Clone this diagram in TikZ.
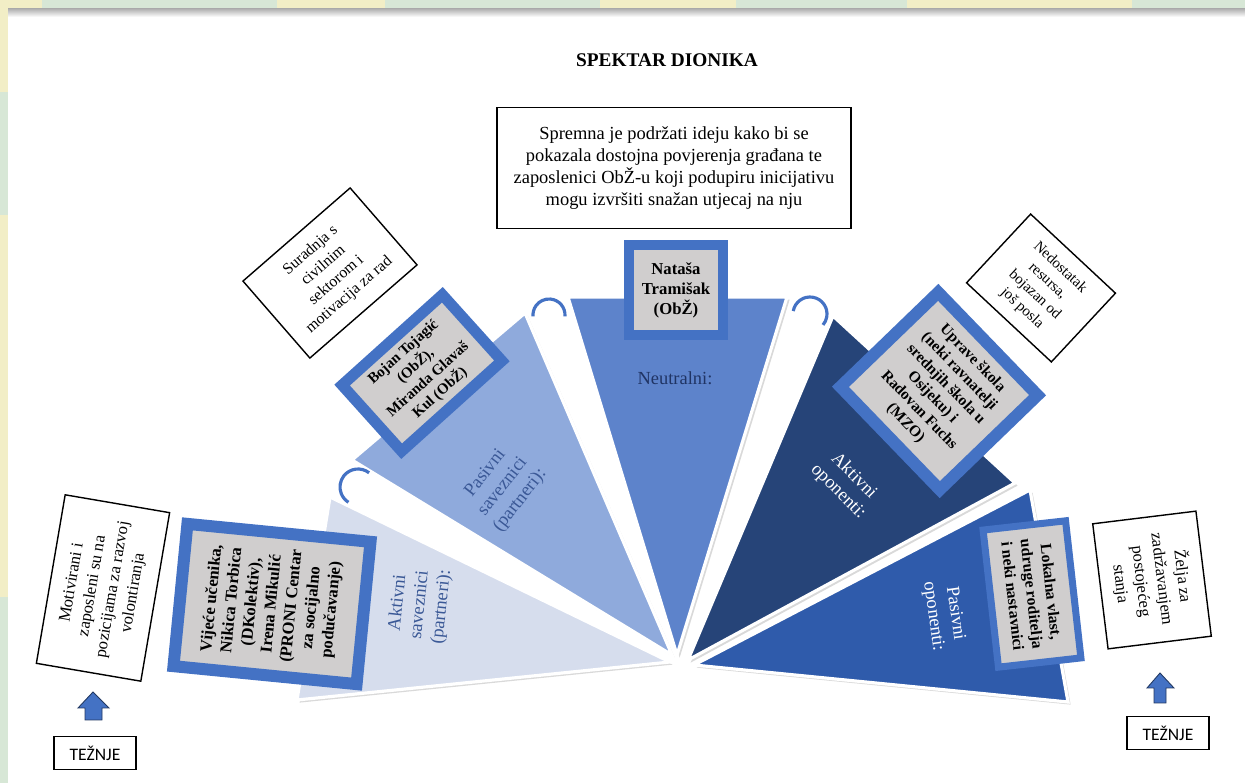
\documentclass[tikz,border=0pt]{standalone}
\usepackage{fontspec}
\setmainfont{Liberation Serif}
\newfontfamily\calibri{Carlito}
\usepackage{tikz}
\usetikzlibrary{shadows}
\definecolor{frameblue}{RGB}{68,114,196}
\definecolor{boxgray}{RGB}{208,206,206}
\definecolor{wedgeA}{RGB}{214,221,237}
\definecolor{wedgeB}{RGB}{143,170,220}
\definecolor{wedgeC}{RGB}{93,131,203}
\definecolor{wedgeD}{RGB}{38,68,120}
\definecolor{wedgeE}{RGB}{47,91,171}
\definecolor{labelblue}{RGB}{58,88,150}
\definecolor{labeldark}{RGB}{32,52,100}
\definecolor{stripyellow}{RGB}{242,238,198}
\definecolor{stripgreen}{RGB}{215,231,214}
\tikzstyle{wedge}=[draw=white,
line width=1.8pt,
drop shadow={opacity=0.3,shadow xshift=1.5pt,shadow yshift=-1.5pt}]
\tikzstyle{stakeholder}=[rectangle,
draw=frameblue,
fill=boxgray,
align=center,
inner sep=0pt,
font=\fontsize{9.5}{11.4}\selectfont\bfseries]
\tikzstyle{note}=[rectangle,
draw=black,
line width=0.8pt,
fill=white,
align=center,
inner sep=0pt,
font=\fontsize{9.5}{11.8}\selectfont]
\tikzstyle{aim}=[rectangle,
draw=black,
line width=0.8pt,
fill=white,
minimum width=1.64cm,
minimum height=0.66cm,
font=\calibri\fontsize{10}{12}\selectfont]
\tikzstyle{wedgelabel}=[align=center,
font=\fontsize{10.5}{12.5}\selectfont]
\tikzstyle{hook}=[draw=frameblue,
line width=1.8pt]
\tikzstyle{uparrow}=[fill=frameblue,
draw=frameblue!50!black,
line width=0.5pt]

\begin{document}
\begin{tikzpicture}[x=0.02cm,y=-0.02cm]
	\useasboundingbox (0,0) rectangle (1245,783);
	% page edge strips
	\fill[stripyellow] (0,0) rectangle (1245,9);
	\foreach \a/\b in {42/277,385/600,736/907,1132/1245}
	\fill[stripgreen] (\a,0) rectangle (\b,9);
	\fill[stripyellow] (0,0) rectangle (8,783);
	\fill[stripgreen] (0,92) rectangle (8,215);
	\fill[stripgreen] (0,597) rectangle (8,783);
	\shade[top color=black!30,bottom color=white] (8,9) rectangle (1245,17);
	
	\node[font=\fontsize{11}{13}\selectfont\bfseries] (title) at (667,60) {SPEKTAR DIONIKA};
	
	% the fan of stakeholder groups
	\path[wedge,fill=wedgeA] (670,662) -- (330,497) -- (297,700) -- cycle;
	\path[wedge,fill=wedgeB] (672,655) -- (352,460) -- (525,313) -- cycle;
	\path[wedge,fill=wedgeC] (677,655) -- (568,297) -- (787,297) -- cycle;
	\path[wedge,fill=wedgeD] (688,660) -- (833,316) -- (1015,483) -- cycle;
	\path[wedge,fill=wedgeE] (694,665) -- (1030,490) -- (1068,702) -- cycle;
	
	% small hooks between the groups
	\draw[hook] (358,487) ++(-52:18) arc[start angle=-52,end angle=-238,radius=18];
	\draw[hook] (549,315) ++(5:16) arc[start angle=5,end angle=-185,radius=16];
	\draw[hook] (810,314) ++(-170:17) arc[start angle=-170,end angle=40,radius=17];
	
	\node[wedgelabel,text=labelblue,rotate=84] (activeAllies) at (420,605) {Aktivni\\saveznici\\(partneri):};
	\node[wedgelabel,text=labelblue,rotate=52] (passiveAllies) at (503,487) {Pasivni\\saveznici\\(partneri):};
	\node[wedgelabel,text=labeldark] (neutral) at (675,378) {Neutralni:};
	\node[wedgelabel,text=white,rotate=-45] (activeOpp) at (846,484) {Aktivni\\oponenti:};
	\node[wedgelabel,text=white,rotate=-82] (passiveOpp) at (944,615) {Pasivni\\oponenti:};
	
	% who belongs to each group
	\node[stakeholder,line width=0.24cm,minimum width=2.86cm,minimum height=3.68cm,rotate=84.4] (allies) at (272,604)
	{Vijeće učenika,\\Nikica Torbica\\(DKolektiv),\\Irena Mikulić\\(PRONI Centar\\za socijalno\\podučavanje)};
	\node[stakeholder,line width=0.22cm,minimum width=2.7cm,minimum height=1.78cm,rotate=42,font=\fontsize{8.5}{10.4}\selectfont\bfseries] (partners) at (422,373)
	{Bojan Tojagić\\(ObŽ),\\Miranda Glavaš\\Kul (ObŽ)};
	\node[stakeholder,line width=0.2cm,minimum width=1.88cm,minimum height=1.8cm] (neutralWho) at (676,290)
	{Nataša\\Tramišak\\(ObŽ)};
	\node[stakeholder,line width=0.24cm,minimum width=2.86cm,minimum height=2.72cm,rotate=-46,font=\fontsize{8.8}{10.6}\selectfont\bfseries] (opponents) at (939,391)
	{Uprave škola\\(neki ravnatelji\\srednjih škola u\\Osijeku) i\\Radovan Fuchs\\(MZO)};
	\node[stakeholder,line width=0.14cm,minimum width=2.76cm,minimum height=1.66cm,rotate=-83.6,font=\fontsize{9}{11}\selectfont\bfseries] (passiveWho) at (1032,594)
	{Lokalna vlast,\\udruge roditelja\\i neki nastavnici};
	
	% motives
	\node[note,minimum width=7.08cm,minimum height=2.42cm,font=\fontsize{10.5}{12.6}\selectfont] (neutralNote) at (674,168)
	{Spremna je podržati ideju kako bi se\\pokazala dostojna povjerenja građana te\\zaposlenici ObŽ-u koji podupiru inicijativu\\mogu izvršiti snažan utjecaj na nju};
	\node[note,minimum width=3.42cm,minimum height=2.12cm,rotate=80.3] (alliesNote) at (103,588)
	{Motivirani i\\zaposleni su na\\pozicijama za razvoj\\volontiranja};
	\node[note,minimum width=2.84cm,minimum height=2.04cm,rotate=41,font=\fontsize{9}{11.2}\selectfont] (partnersNote) at (330,273)
	{Suradnja s\\civilnim\\sektorom i\\motivacija za rad};
	\node[note,minimum width=2.32cm,minimum height=1.88cm,rotate=-43,font=\fontsize{8.5}{10.6}\selectfont] (opponentsNote) at (1041,288)
	{Nedostatak\\resursa,\\bojazan od\\još posla};
	\node[note,minimum width=2.52cm,minimum height=2.08cm,rotate=-83] (passiveNote) at (1152,580)
	{Želja za\\zadržavanjem\\postojećeg\\stanja};
	
	% aims
	\node[aim] (aimLeft) at (95,753) {TEŽNJE};
	\node[aim] (aimRight) at (1168,733) {TEŽNJE};
	\draw[uparrow] (93,692) -- (109,708) -- (102,708) -- (102,720) -- (85,720) -- (85,708) -- (78,708) -- cycle;
	\draw[uparrow] (1160,673) -- (1174,688) -- (1166,688) -- (1166,703) -- (1154,703) -- (1154,688) -- (1147,688) -- cycle;
\end{tikzpicture}
\end{document}
